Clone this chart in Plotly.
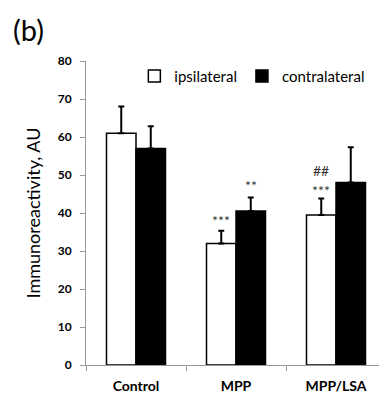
import plotly.graph_objects as go

categories = ["Control", "MPP", "MPP/LSA"]
ipsilateral = [61, 32, 39.5]
ipsilateral_err = [7, 3.3, 4.3]
contralateral = [57, 40.5, 48]
contralateral_err = [5.8, 3.6, 9.3]
y_ticks = [0, 10, 20, 30, 40, 50, 60, 70, 80]

# significance marks: (category index, trace offset sign, y value, text)
sig_marks = [
    (1, -1, 38.0, "***"),
    (1, 1, 47.2, "**"),
    (2, -1, 45.8, "***"),
    (2, -1, 51.1, "##"),
]

FONT = "Lato"
bargap = 0.41
half = (1 - bargap) / 4

fig = go.Figure()
fig.add_bar(
    x=categories, y=ipsilateral, name="ipsilateral",
    marker=dict(color="white", line=dict(color="black", width=1.5)),
    error_y=dict(type="data", symmetric=False, array=ipsilateral_err,
                 arrayminus=[0] * 3, color="black", thickness=2, width=3),
)
fig.add_bar(
    x=categories, y=contralateral, name="contralateral",
    marker=dict(color="black", line=dict(color="black", width=1.5)),
    error_y=dict(type="data", symmetric=False, array=contralateral_err,
                 arrayminus=[0] * 3, color="black", thickness=2, width=3),
)

for ci, sgn, yv, txt in sig_marks:
    fig.add_annotation(x=ci + sgn * half, y=yv, xref="x", yref="y", text=txt,
                       showarrow=False, yanchor="middle",
                       font=dict(family=FONT, size=14, color="#333"))

fig.add_annotation(xref="paper", yref="paper", x=-0.195, y=1.105, xanchor="center",
                   yanchor="middle", text="(b)", showarrow=False,
                   font=dict(family=FONT, size=29, color="black"))

fig.update_layout(
    width=379, height=393,
    margin=dict(l=86, r=0, t=61, b=28),
    paper_bgcolor="white", plot_bgcolor="white",
    barmode="group", bargap=bargap, bargroupgap=0,
    font=dict(family=FONT, color="black"),
    showlegend=True,
    legend=dict(orientation="h", x=0.165, xanchor="left", y=0.95, yanchor="middle",
                font=dict(family=FONT, size=15, color="black"),
                bgcolor="rgba(0,0,0,0)", itemwidth=30, traceorder="normal"),
    xaxis=dict(range=[-0.5, 2.43], showline=True, linecolor="#999", linewidth=1,
               ticks="outside", tickson="boundaries", ticklen=5, tickcolor="#999",
               ticklabelstandoff=8,
               tickfont=dict(family=FONT, size=14, weight="bold"),
               showgrid=False, zeroline=False),
    yaxis=dict(range=[0, 80], tickvals=y_ticks, showline=True, linecolor="#999",
               linewidth=1, ticks="outside", ticklen=5, tickcolor="#999",
               ticklabelstandoff=6,
               tickfont=dict(family=FONT, size=12, weight="bold"),
               showgrid=False, zeroline=False,
               title=dict(text="Immunoreactivity, AU", standoff=12,
                          font=dict(family=FONT, size=18))),
)

fig.write_html("out.html", post_script="document.body.style.margin='0';",
               config={"displayModeBar": False})
